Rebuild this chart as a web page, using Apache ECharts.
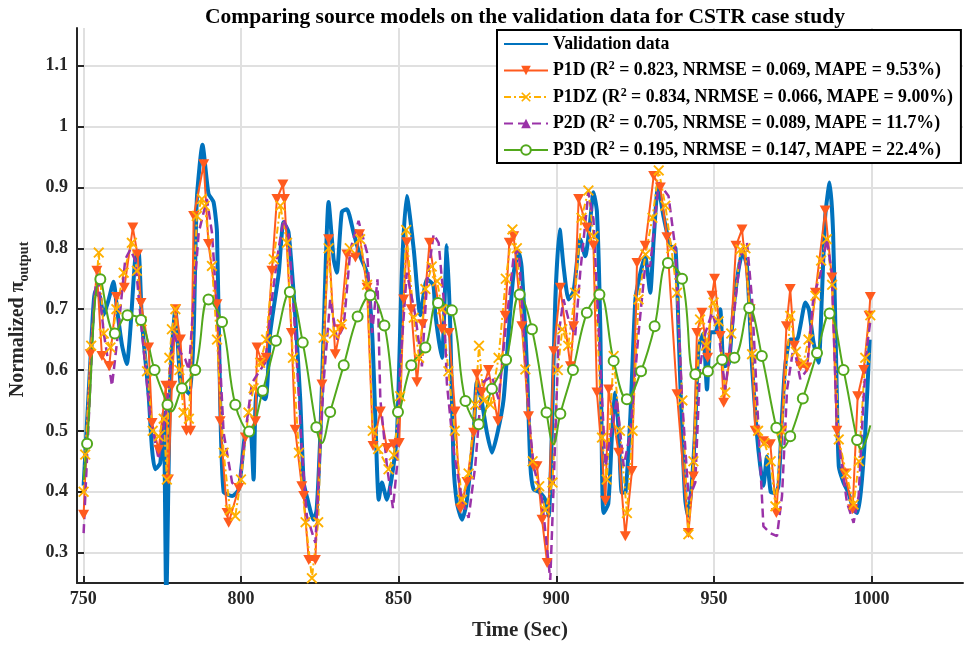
<!DOCTYPE html>
<html>
<head>
<meta charset="utf-8">
<script src="https://cdn.jsdelivr.net/npm/echarts@6/dist/echarts.min.js"></script>
<style>
  html, body { margin: 0; padding: 0; background: #fff; }
  #chart { width: 968px; height: 646px; }
</style>
</head>
<body>
<div id="chart"></div>
<script>
// values, [time, normalized value]
const valData = [
  [750.1,0.41],[752.2,0.61],[753.8,0.73],[755.3,0.72],[756.4,0.69],[758,0.715],[759.6,0.745],[760.7,0.70],
  [762.3,0.64],[763.8,0.61],[764.9,0.665],[766.5,0.785],[767.5,0.795],[768.6,0.68],[770.7,0.56],[771.8,0.47],
  [772.8,0.437],[774.4,0.447],[775.5,0.53],[776.3,0.22],[777.6,0.585],[779.2,0.70],[780.8,0.58],[782.3,0.568],
  [783.8,0.56],[785,0.66],[786,0.88],[787.8,0.97],[789.7,0.89],[791.3,0.876],[792.4,0.826],[793.4,0.55],
  [794.5,0.40],[797.2,0.393],[799.3,0.404],[801.4,0.497],[803,0.50],[804,0.42],[805,0.563],[807.7,0.552],
  [809.3,0.662],[812,0.76],[813.5,0.843],[815.1,0.826],[817.2,0.69],[818.8,0.552],[819.9,0.415],[821,0.39],
  [823,0.354],[824,0.37],[825.2,0.497],[826.2,0.66],[827.8,0.876],[829.4,0.782],[830.4,0.76],[832,0.86],
  [833.6,0.864],[835.7,0.826],[837.8,0.787],[839.9,0.76],[841.6,0.662],[842.6,0.524],[843.7,0.387],[844.7,0.415],
  [846.3,0.387],[847.9,0.426],[849.5,0.497],[851.1,0.771],[852.6,0.886],[854.8,0.798],[856.9,0.69],[859,0.749],
  [861,0.74],[861.6,0.694],[863.7,0.62],[865.3,0.805],[866.4,0.667],[867.4,0.448],[868.5,0.382],[870.1,0.354],
  [871.5,0.38],[873.8,0.497],[874.8,0.58],[876.3,0.55],[878,0.497],[879.6,0.464],[881.5,0.50],[883.3,0.552],
  [884.9,0.662],[886.5,0.76],[888.1,0.793],[889,0.77],[890.7,0.606],[891.8,0.442],[892.8,0.404],[894.5,0.40],
  [896.5,0.387],[897.6,0.36],[898.6,0.497],[899.7,0.716],[901.1,0.831],[902.3,0.771],[903.9,0.716],[905.5,0.73],
  [907.6,0.815],[909.2,0.787],[910.6,0.837],[911.8,0.892],[912.9,0.86],[914,0.662],[914.5,0.442],[915,0.365],
  [916.5,0.38],[917.7,0.497],[918.7,0.563],[919.8,0.50],[920.8,0.398],[922,0.40],[923.5,0.524],[925.1,0.716],
  [926.7,0.76],[928.2,0.787],[929.8,0.727],[930.9,0.815],[932.3,0.903],[934,0.853],[936.2,0.804],[937.8,0.80],
  [938.8,0.662],[939.9,0.497],[940.9,0.387],[941.8,0.36],[943,0.415],[944,0.497],[945.1,0.634],[946.6,0.66],
  [947.8,0.568],[948.9,0.662],[950.5,0.662],[952,0.70],[953.1,0.606],[954.7,0.61],[956.2,0.70],[957.8,0.765],
  [959.1,0.793],[960.5,0.77],[962.1,0.606],[963.6,0.497],[964.7,0.442],[965.7,0.41],[966.8,0.458],[968,0.40],
  [969.5,0.398],[970.5,0.41],[971.6,0.524],[972.6,0.606],[974.2,0.65],[976.3,0.65],[977.4,0.672],[979,0.711],
  [980.1,0.70],[981.6,0.645],[983.2,0.612],[984.2,0.716],[985.3,0.853],[986.7,0.908],[987.8,0.826],[988.8,0.606],
  [989.6,0.442],[991.1,0.415],[992.7,0.398],[994.3,0.37],[995.4,0.365],[996.6,0.40],[998,0.497],[999.4,0.65]
];

const p1dData = [
  [750.1,0.362],[752.2,0.626],[754.3,0.763],[755.9,0.623],[758.2,0.606],[760.5,0.72],[763,0.735],[765.7,0.834],
  [767.2,0.79],[768.3,0.71],[770.7,0.637],[771.8,0.513],[773.9,0.469],[776.2,0.574],[777,0.42],[778.1,0.574],
  [779.3,0.70],[780.8,0.65],[782.7,0.50],[784,0.50],[785,0.853],[788.2,0.938],[789.7,0.807],[792.4,0.708],
  [793.4,0.516],[795.6,0.365],[796.1,0.349],[799.3,0.406],[801.4,0.489],[804.6,0.516],[805.1,0.637],[806.7,0.612],
  [808,0.62],[809.8,0.763],[811.4,0.881],[813.3,0.905],[813.8,0.881],[816,0.661],[817.2,0.502],[819.3,0.409],
  [819.9,0.393],[821.5,0.288],[823.6,0.288],[825.7,0.576],[827.8,0.815],[829.9,0.626],[831.5,0.667],[833.6,0.79],
  [836.3,0.785],[837.6,0.823],[840,0.735],[841.9,0.475],[844.2,0.532],[846.3,0.472],[848.4,0.478],[850.2,0.48],
  [851.6,0.716],[852.6,0.81],[854,0.70],[855.8,0.58],[857.6,0.675],[859.8,0.809],[863.7,0.667],[866,0.661],
  [867.9,0.532],[869.6,0.372],[871.7,0.416],[873.8,0.497],[874.8,0.593],[876.4,0.563],[878.5,0.60],[881.5,0.516],
  [883.8,0.689],[885.1,0.809],[886.5,0.82],[889.1,0.672],[891.2,0.524],[892.8,0.442],[893.9,0.442],[895.5,0.354],
  [897.1,0.283],[899.2,0.631],[901.3,0.735],[904.5,0.606],[905.5,0.672],[907.1,0.881],[909.7,0.834],[911.8,0.804],
  [912.9,0.563],[915.6,0.385],[916.6,0.568],[919.8,0.464],[921.9,0.327],[924,0.434],[925.6,0.776],[928.2,0.804],
  [930.9,0.919],[933,0.90],[935.1,0.818],[938.3,0.56],[941.9,0.332],[943.5,0.425],[944.6,0.661],[946.2,0.694],
  [948,0.62],[949.4,0.722],[950.2,0.75],[952,0.656],[953.1,0.546],[955,0.62],[957,0.804],[958.9,0.831],
  [961.5,0.70],[963.1,0.50],[965.7,0.483],[967.9,0.478],[969.8,0.365],[971.5,0.50],[973,0.672],[974.2,0.733],
  [975.5,0.64],[977.4,0.606],[979.5,0.604],[982.2,0.727],[985.3,0.862],[987.4,0.752],[989,0.50],[991.5,0.43],
  [994,0.371],[995.6,0.557],[997.5,0.60],[999.2,0.689],[999.6,0.72]
];

const p1dzData = [
  [750.1,0.40],[750.6,0.461],[752.5,0.64],[754.9,0.793],[756.5,0.66],[758.6,0.637],[760.5,0.70],[762.8,0.76],
  [765.4,0.809],[767,0.763],[768.5,0.68],[770.2,0.598],[772,0.50],[773.9,0.491],[775.5,0.52],[776.5,0.42],
  [777.3,0.62],[778.1,0.667],[779.2,0.70],[780.5,0.60],[781.8,0.53],[783.5,0.52],[786,0.853],[787.6,0.881],
  [788.5,0.87],[790.8,0.771],[792.4,0.65],[794.5,0.464],[796.5,0.37],[798.2,0.36],[800,0.42],[802.4,0.53],
  [804,0.57],[806.1,0.612],[808,0.65],[810.4,0.782],[812.5,0.87],[814.6,0.809],[816.5,0.62],[818.4,0.464],
  [820.5,0.35],[822.5,0.258],[824.5,0.35],[826.2,0.653],[827.8,0.80],[829.5,0.66],[832,0.675],[834.5,0.80],
  [837.8,0.815],[840,0.74],[841.8,0.50],[843.5,0.47],[846.8,0.437],[848.5,0.46],[850.5,0.557],[852.4,0.83],
  [854.8,0.686],[856.5,0.62],[858.5,0.733],[860.5,0.77],[862.2,0.746],[863.8,0.70],[865.8,0.598],[867.8,0.50],
  [870.1,0.387],[872.2,0.43],[874.3,0.543],[875.5,0.64],[877,0.55],[879.1,0.543],[881.7,0.62],[884,0.75],
  [886.1,0.831],[887.5,0.80],[890.2,0.601],[892.5,0.45],[894.6,0.409],[896.5,0.37],[898.8,0.415],[900.5,0.60],
  [901.9,0.667],[903.8,0.64],[906,0.727],[908,0.85],[910.2,0.895],[911.8,0.82],[914.5,0.489],[916,0.42],
  [918.2,0.623],[920.2,0.50],[922.4,0.365],[924.2,0.50],[926.1,0.716],[928.3,0.79],[930.5,0.85],[932.5,0.928],
  [934.6,0.87],[936.5,0.80],[938.3,0.727],[940,0.55],[941.9,0.33],[943.5,0.45],[945.6,0.683],[947.5,0.64],
  [949.9,0.711],[951.5,0.68],[953.6,0.563],[955.5,0.66],[958.4,0.798],[960,0.80],[962.1,0.626],[964,0.50],
  [966,0.48],[968,0.45],[969.5,0.376],[971.5,0.50],[974.2,0.689],[976,0.63],[978.4,0.612],[980,0.65],
  [982.2,0.722],[984,0.78],[985.8,0.815],[987.5,0.74],[989.6,0.486],[992,0.43],[994.3,0.379],[996,0.45],
  [998,0.62],[999.6,0.69]
];

const p2dData = [
  [750.1,0.332],[752,0.55],[753.5,0.72],[754.5,0.76],[756.5,0.66],[759.1,0.574],[761,0.66],[763.3,0.782],
  [764.9,0.798],[766.5,0.78],[768.6,0.662],[771.2,0.524],[773.9,0.453],[776.5,0.541],[778.6,0.661],[780.8,0.629],
  [782.3,0.618],[783.5,0.60],[785,0.716],[786.6,0.826],[789.2,0.881],[790.8,0.826],[792.9,0.661],[794.5,0.497],
  [797.2,0.415],[799.3,0.404],[801.4,0.497],[803.5,0.579],[805.6,0.596],[807.7,0.612],[809.8,0.716],[811.9,0.798],
  [813.5,0.848],[815.1,0.826],[817.2,0.661],[819.3,0.469],[820.9,0.36],[823.6,0.316],[824.6,0.415],[826.2,0.579],
  [828.3,0.716],[830.5,0.65],[832.6,0.672],[834.7,0.798],[837.3,0.845],[840,0.793],[841.6,0.661],[843.3,0.749],
  [844.2,0.552],[846.3,0.442],[848.2,0.373],[849.5,0.442],[850.5,0.606],[852.6,0.76],[855.3,0.69],[857.4,0.606],
  [859,0.744],[861.1,0.823],[862.7,0.809],[864.3,0.716],[865.3,0.579],[867.4,0.469],[870.1,0.387],[872.2,0.357],
  [874.3,0.442],[876.4,0.579],[879.6,0.59],[881.7,0.552],[883.8,0.661],[886.5,0.787],[888.1,0.798],[889.7,0.661],
  [891.8,0.497],[892.8,0.442],[895.5,0.387],[898.1,0.255],[899.2,0.415],[900.8,0.661],[902.3,0.716],[903.9,0.683],
  [906,0.656],[907.6,0.76],[910.2,0.892],[911.8,0.848],[914,0.606],[915.6,0.442],[917.5,0.50],[919.2,0.552],
  [921.4,0.442],[923.5,0.497],[926.1,0.661],[928.2,0.771],[929.8,0.771],[932.5,0.908],[935.6,0.886],[937.8,0.798],
  [939.9,0.552],[942,0.387],[944.1,0.415],[945.6,0.606],[947.3,0.661],[949.4,0.694],[951.5,0.661],[953.6,0.568],
  [955.7,0.661],[958.4,0.787],[960.5,0.809],[962.1,0.716],[964.2,0.497],[965.7,0.343],[967.9,0.332],[970,0.327],
  [971.6,0.393],[973.2,0.568],[975.3,0.64],[977.4,0.585],[979.5,0.60],[981.6,0.722],[983.7,0.755],[985.8,0.815],
  [987.4,0.76],[989,0.502],[992.2,0.382],[994.3,0.349],[995.9,0.393],[997.5,0.557],[998.6,0.64],[999.6,0.68]
];

// P3D: marked points (circles) and a few unmarked curve points between them
const p3dData = [
  [751.2,0.479],[755.4,0.749],[760,0.660],[764,0.690],[768.3,0.682],[772.6,0.600],[776.7,0.543],[781.3,0.570],
  [785.5,0.600],[789.7,0.716],[794,0.679],[798.2,0.543],[802.6,0.499],[806.9,0.566],[811.1,0.648],[815.5,0.728],
  [819.6,0.645],[823.9,0.506],[828.3,0.531],[832.6,0.608],[837,0.688],[841,0.723],[845.5,0.673],[849.8,0.531],
  [854,0.608],[858.5,0.637],[862.5,0.710],[866.9,0.698],[871.2,0.549],[875.4,0.511],[879.6,0.569],[884.1,0.617],
  [888.4,0.724],[892.3,0.667],[896.9,0.530],[901.3,0.528],[905.3,0.600],[909.7,0.694],[913.7,0.724],[918.2,0.615],
  [922.4,0.552],[926.9,0.598],[931.2,0.672],[935.4,0.776],[939.9,0.750],[944.1,0.593],[948.1,0.598],[952.6,0.617],
  [956.5,0.620],[961.2,0.702],[965.2,0.623],[969.8,0.505],[974.2,0.491],[978.2,0.553],[982.7,0.628],[986.7,0.693],
  [991.1,0.600],[995.4,0.485]
];
const p3dCurve = [
  [750.1,0.42],[777.9,0.532],[825.6,0.48],[899.1,0.478],[972,0.472],[996.6,0.47],[999.6,0.509]
];

const xTicks = [750, 800, 850, 900, 950, 1000];
const yTicks = [0.3, 0.4, 0.5, 0.6, 0.7, 0.8, 0.9, 1, 1.1];

const legendText = {
  "Validation data": "Validation data",
  "P1D": "P1D (R{sup|2} = 0.823, NRMSE = 0.069, MAPE = 9.53%)",
  "P1DZ": "P1DZ (R{sup|2} = 0.834, NRMSE = 0.066, MAPE = 9.00%)",
  "P2D": "P2D (R{sup|2} = 0.705, NRMSE = 0.089, MAPE = 11.7%)",
  "P3D": "P3D (R{sup|2} = 0.195, NRMSE = 0.147, MAPE = 22.4%)",
};

const FONT = "Liberation Serif";
const downTri = "path://M0,0L10,0L5,9Z";
const xMark = "path://M0,1.2L1.2,0L5,3.8L8.8,0L10,1.2L6.2,5L10,8.8L8.8,10L5,6.2L1.2,10L0,8.8L3.8,5Z";

const p3dAll = p3dData.map((p) => ({ value: p }))
  .concat(p3dCurve.map((p) => ({ value: p, symbol: "none" })))
  .sort((a, b) => a.value[0] - b.value[0]);

const chart = echarts.init(document.getElementById("chart"));
chart.setOption({
  animation: false,
  backgroundColor: "#fff",
  title: {
    text: "Comparing source models on the validation data for CSTR case study",
    left: 520,
    textAlign: "center",
    top: 1,
    textStyle: { fontFamily: FONT, fontWeight: "bold", fontSize: 21.5, color: "#000" },
  },
  grid: { left: 77, right: 5, top: 28, bottom: 63, outerBoundsMode: "none" },
  legend: {
    orient: "vertical",
    left: 497,
    top: 30,
    itemWidth: 44,
    itemHeight: 12,
    itemGap: 7,
    padding: [5, 8, 4, 6],
    backgroundColor: "#fff",
    borderColor: "#000",
    borderWidth: 2,
    z: 10,
    data: [
      { name: "Validation data", itemStyle: { opacity: 0 } },
      "P1D", "P1DZ", "P2D", "P3D",
    ],
    formatter: (name) => legendText[name],
    textStyle: {
      fontFamily: FONT,
      fontWeight: "bold",
      fontSize: 17.8,
      color: "#000",
      rich: {
        sup: { fontFamily: FONT, fontWeight: "bold", fontSize: 12, verticalAlign: "top", padding: [0, 0, 9, 0] },
      },
    },
  },
  xAxis: {
    type: "value",
    min: 748,
    max: 1029,
    name: "Time (Sec)",
    nameLocation: "middle",
    nameGap: 37,
    nameTextStyle: { fontFamily: FONT, fontWeight: "bold", fontSize: 21, color: "#262626" },
    axisLine: { lineStyle: { color: "#262626", width: 2 } },
    axisTick: { inside: true, length: 7, customValues: xTicks, lineStyle: { color: "#262626", width: 2 } },
    axisLabel: {
      customValues: xTicks,
      fontFamily: FONT,
      fontWeight: "bold",
      fontSize: 18,
      color: "#262626",
      margin: 7,
      formatter: (v) => String(v),
    },
    splitLine: { show: true, lineStyle: { color: "#e0e0e0", width: 2 } },
  },
  yAxis: {
    type: "value",
    min: 0.25,
    max: 1.162,
    name: "{a|Normalized π}{b|output}",
    nameLocation: "middle",
    nameGap: 46,
    nameRotate: 90,
    nameTextStyle: {
      color: "#262626",
      padding: [0, 28, 0, 0],
      rich: {
        a: { fontFamily: FONT, fontWeight: "bold", fontSize: 20, color: "#262626", lineHeight: 26 },
        b: { fontFamily: FONT, fontWeight: "bold", fontSize: 14, color: "#262626", lineHeight: 26, verticalAlign: "bottom", padding: [10, 0, 0, 0] },
      },
    },
    axisLine: { show: true, lineStyle: { color: "#262626", width: 2 } },
    axisTick: { show: true, inside: true, length: 7, customValues: yTicks, lineStyle: { color: "#262626", width: 2 } },
    axisLabel: {
      customValues: yTicks,
      fontFamily: FONT,
      fontWeight: "bold",
      fontSize: 18,
      color: "#262626",
      margin: 9,
      formatter: (v) => String(Math.round(v * 10) / 10),
    },
    splitLine: { show: true, lineStyle: { color: "#e0e0e0", width: 2 } },
  },
  series: [
    {
      name: "Validation data",
      type: "line",
      data: valData,
      symbol: "none",
      smooth: 0.2,
      itemStyle: { color: "#0072BD" },
      lineStyle: { color: "#0072BD", width: 4 },
    },
    {
      name: "P1D",
      type: "line",
      data: p1dData,
      symbol: downTri,
      symbolSize: [11, 10],
      itemStyle: { color: "#FF5A1E" },
      lineStyle: { color: "#FF5A1E", width: 2 },
    },
    {
      name: "P1DZ",
      type: "line",
      data: p1dzData,
      symbol: xMark,
      symbolSize: 11,
      itemStyle: { color: "#FFB000" },
      lineStyle: { color: "#FFB000", width: 2, type: [7, 3, 2, 3] },
    },
    {
      name: "P2D",
      type: "line",
      data: p2dData.map((p) => ({ value: p, symbol: "none" })),
      symbol: "triangle",
      symbolSize: 11,
      itemStyle: { color: "#9A32A8" },
      lineStyle: { color: "#9A32A8", width: 2.5, type: [9, 5] },
    },
    {
      name: "P3D",
      type: "line",
      data: p3dAll,
      symbol: "emptyCircle",
      symbolSize: 10,
      smooth: 0.4,
      itemStyle: { color: "#52A81C", borderWidth: 2 },
      lineStyle: { color: "#52A81C", width: 2 },
    },
  ],
});
</script>
</body>
</html>
